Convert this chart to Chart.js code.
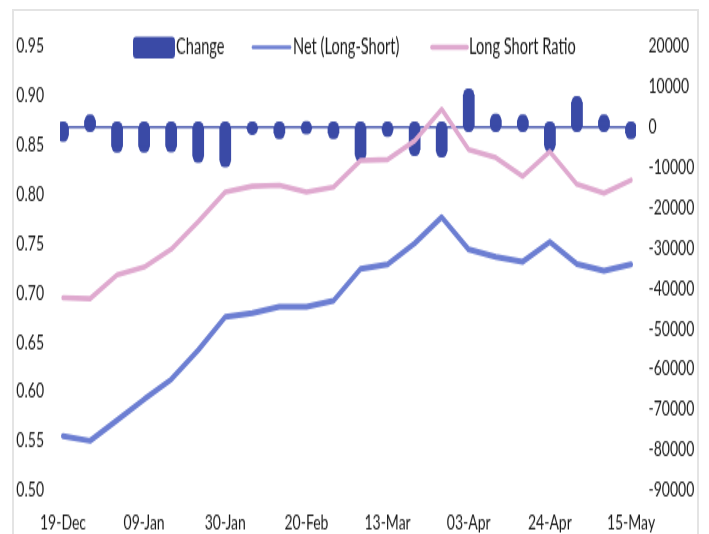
<!DOCTYPE html>
<html>
<head>
<meta charset="utf-8">
<script src="https://cdn.jsdelivr.net/npm/chart.js@4.4.1/dist/chart.umd.min.js"></script>
<style>
  html, body { margin: 0; padding: 0; background: #fff; overflow: hidden; }
  #frame {
    position: absolute; left: 12px; top: 9px;
    width: 683px; height: 560px;
    border: 2px solid #e4e4e4;
  }
  #wrap {
    position: absolute; left: 0; top: 0;
    width: 709px; height: 356px;
    transform: scaleY(1.5); transform-origin: 0 0;
  }
</style>
</head>
<body>
<div id="frame"></div>
<div id="wrap"><canvas id="chart" width="709" height="356"></canvas></div>
<script>
const weeks = ['19-Dec', '26-Dec', '02-Jan', '09-Jan', '16-Jan', '23-Jan', '30-Jan', '06-Feb',
    '13-Feb', '20-Feb', '27-Feb', '06-Mar', '13-Mar', '20-Mar', '27-Mar', '03-Apr',
    '10-Apr', '17-Apr', '24-Apr', '01-May', '08-May', '15-May'];
const change = [-2100, 1450, -4800, -4800, -4750, -7300, -8450, -400, -1500, -200, -1500,
    -6950, -900, -5650, -6050, 7900, 1700, 1450, -4600, 6000, 1450, -1500];
const net = [-76600, -77800, -72700, -67500, -62600, -55300, -47100, -46200, -44600, -44600, -43100,
    -35200, -34100, -28900, -22400, -30400, -32200, -33400, -28500, -34000, -35700, -34100];
const ratio = [0.695, 0.694, 0.718, 0.726, 0.744, 0.772, 0.802, 0.808, 0.809, 0.802, 0.807,
    0.834, 0.835, 0.854, 0.886, 0.845, 0.837, 0.818, 0.843, 0.810, 0.801, 0.814];

const changeColor = '#3a4aa6';
const zeroColor = '#4757ae';
const netColor = '#6c7ed2';
const ratioColor = '#dfa9cf';
const textColor = '#1a1a1a';
const font = { family: 'Lato', size: 14 };

// excel draws the bars as rounded capsules that spill a bit past both ends
const capsuleBars = {
    id: 'capsuleBars',
    beforeDatasetsDraw(chart) {
        let ctx = chart.ctx;
        let area = chart.chartArea;
        let meta = chart.getDatasetMeta(0);
        ctx.save();
        ctx.beginPath();
        ctx.rect(area.left - 3, area.top, area.right - area.left + 8, area.bottom - area.top);
        ctx.clip();
        ctx.fillStyle = changeColor;
        meta.data.forEach(bar => {
            let top = Math.min(bar.y, bar.base) - 4.3;
            let bottom = Math.max(bar.y, bar.base) + 4.3;
            ctx.beginPath();
            ctx.roundRect(bar.x - bar.width / 2, top, bar.width, bottom - top, 4.5);
            ctx.fill();
        });
        ctx.restore();
    }
};

const plotLegend = {
    id: 'plotLegend',
    afterDraw(chart) {
        let ctx = chart.ctx;
        let ds = chart.data.datasets;
        let y = 31.5;
        ctx.save();
        ctx.font = '14.6px ' + font.family;
        ctx.textBaseline = 'middle';
        ctx.textAlign = 'left';

        ctx.fillStyle = changeColor;
        ctx.beginPath();
        ctx.roundRect(133, 24.5, 42, 14.4, 3);
        ctx.fill();
        ctx.fillStyle = textColor;
        ctx.fillText(ds[0].label, 176, y);

        ctx.lineCap = 'round';
        ctx.strokeStyle = netColor;
        ctx.lineWidth = 2.6;
        ctx.beginPath();
        ctx.moveTo(253, y);
        ctx.lineTo(290, y);
        ctx.stroke();
        ctx.fillText(ds[1].label, 293, y);

        ctx.strokeStyle = ratioColor;
        ctx.lineWidth = 3.6;
        ctx.beginPath();
        ctx.moveTo(432, y);
        ctx.lineTo(467, y);
        ctx.stroke();
        ctx.fillText(ds[2].label, 469, y);
        ctx.restore();
    }
};

let ctx = document.getElementById('chart').getContext('2d');
let myChart = new Chart(ctx, {
    type: 'bar',
    data: {
        labels: weeks,
        datasets: [
            {
                label: 'Change',
                data: change,
                yAxisID: 'y1',
                backgroundColor: changeColor,
                barThickness: 11,
                order: 3,
            }, {
                type: 'line',
                label: 'Net (Long-Short)',
                data: net,
                yAxisID: 'y1',
                borderColor: netColor,
                borderWidth: 4,
                borderJoinStyle: 'round',
                borderCapStyle: 'round',
                pointRadius: 0,
                tension: 0,
                order: 2,
            }, {
                type: 'line',
                label: 'Long Short Ratio',
                data: ratio,
                yAxisID: 'y',
                borderColor: ratioColor,
                borderWidth: 3.6,
                borderJoinStyle: 'round',
                borderCapStyle: 'round',
                pointRadius: 0,
                tension: 0,
                order: 1,
            }
        ]
    },
    options: {
        responsive: false,
        animation: false,
        devicePixelRatio: 1,
        layout: { padding: { top: 30.7, bottom: 0, left: 0, right: 0 } },
        plugins: {
            legend: { display: false },
            tooltip: { enabled: false },
        },
        scales: {
            x: {
                offset: false,
                grid: { display: false, drawTicks: false },
                border: { display: false },
                ticks: {
                    autoSkip: false,
                    maxRotation: 0,
                    padding: 13,
                    color: textColor,
                    font: font,
                    callback: (v, i) => i % 3 === 0 ? weeks[i] : '',
                },
                afterFit: s => { s.height = 29.3; },
            },
            y: {
                position: 'left',
                min: 0.5,
                max: 0.95,
                grid: { display: false, drawTicks: false },
                border: { display: false },
                ticks: {
                    stepSize: 0.05,
                    padding: 19,
                    color: textColor,
                    font: font,
                    callback: v => v.toFixed(2),
                },
                afterFit: s => { s.width = 63; },
            },
            y1: {
                position: 'right',
                min: -90000,
                max: 20000,
                grid: {
                    drawTicks: false,
                    lineWidth: 1.4,
                    color: c => c.tick.value === 0 ? zeroColor : 'rgba(0,0,0,0)',
                },
                border: { display: false },
                ticks: {
                    stepSize: 10000,
                    padding: 17.5,
                    color: textColor,
                    font: font,
                    callback: v => String(v),
                },
                afterFit: s => { s.width = 78; },
            }
        }
    },
    plugins: [capsuleBars, plotLegend]
});
</script>
</body>
</html>
